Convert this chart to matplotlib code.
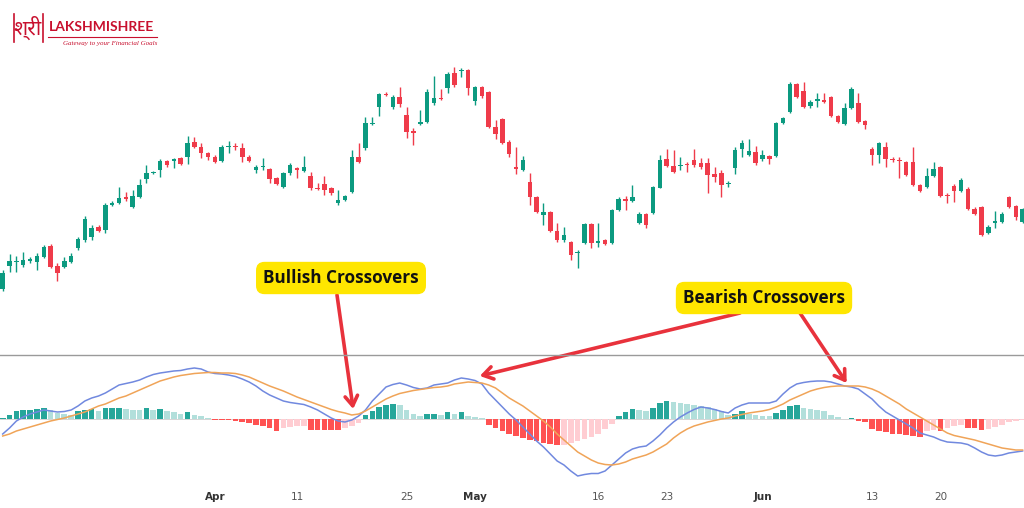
import matplotlib
matplotlib.use("Agg")
import matplotlib.pyplot as plt
from matplotlib.lines import Line2D
import numpy as np

# ---------------- data ----------------
opens = [11,34,38,35,39,38,43,54,34,33,38,52,60,63,73,70,95,97,103,93,
         103,121,127,130,139,139,142,143,158,153,147,143,139,153,154,152,143,130,133,131,
         122,113,127,132,129,124,112,116,112,97,100,108,143,152,176,193,206,193,203,185,
         169,176,178,197,202,212,227,229,230,199,213,208,173,181,158,133,130,118,103,85,
         88,69,60,58,47,57,76,57,60,57,90,101,99,77,86,87,112,141,134,134,
         136,140,137,137,126,127,116,132,151,145,148,141,144,144,177,188,216,209,194,199,
         200,203,184,176,192,197,179,151,145,153,141,140,138,138,115,113,124,133,105,114,
         109,111,91,93,67,77,78,103,94,78]
highs = [30,46,44,48,43,47,55,56,37,43,47,63,84,75,75,97,99,113,108,110,
         121,135,129,141,140,142,143,164,163,157,148,145,155,159,157,157,145,135,142,132,
         123,128,137,133,144,128,117,124,113,110,105,150,157,183,183,207,208,205,213,193,
         172,190,211,224,211,228,233,232,231,214,214,209,180,182,160,153,144,127,104,97,
         89,77,73,59,50,77,77,77,61,91,103,104,115,88,87,114,145,151,150,143,
         138,151,142,142,133,130,119,153,160,161,154,150,145,178,183,218,217,218,200,207,
         207,204,185,197,213,207,180,153,158,158,143,143,139,153,116,132,138,134,107,116,
         122,113,93,94,75,89,88,104,95,92]
lows = [9,28,28,33,37,30,42,32,19,32,37,50,58,60,68,67,94,96,99,92,
        102,117,126,123,133,132,135,136,152,142,140,137,138,147,150,138,138,127,130,117,
        115,112,125,122,128,110,110,105,105,95,99,107,137,150,175,184,204,191,193,162,
        155,175,177,195,200,207,213,223,205,195,202,172,161,156,143,126,129,95,87,75,
        68,58,58,40,32,56,52,53,55,56,89,90,98,76,72,86,112,133,127,130,
        128,133,131,107,118,103,113,126,143,144,135,139,136,143,176,187,202,192,192,193,
        197,183,177,175,191,177,171,135,137,133,138,122,124,114,108,112,123,103,97,98,
        108,90,85,64,66,72,77,92,80,77]
closes = [27,39,39,40,41,44,53,33,27,39,44,61,81,72,69,95,97,102,101,104,
          115,127,128,139,135,141,136,157,153,147,143,138,153,154,153,143,139,133,134,121,
          116,127,135,130,133,112,111,110,107,100,104,143,138,177,177,206,205,203,196,168,
          167,178,208,202,201,226,215,230,212,213,204,173,166,157,146,131,140,103,88,88,
          69,60,65,45,48,76,57,59,56,90,101,99,103,86,75,113,140,134,128,135,
          135,135,133,125,123,115,117,150,157,149,137,145,141,177,182,216,203,193,198,201,
          198,184,178,192,211,178,175,145,157,141,140,139,125,115,109,124,131,104,104,109,
          120,91,86,65,73,79,86,93,83,91]

macd = [-15,-9,-2,2,5,7,9,8,7,7.5,9,13,18,21,23,26,30,34,35.5,37,
        39,42,44.5,46,47,48,48.5,50,51,50,47,45.5,45,44,42.5,40,37,33,28,24,
        21,18,16.5,15.5,14.5,12,9,5,1,-2,-3,-1,3,9,18,25,32,34.5,36,34,
        31.5,30,31,34,35,36,39,41,40,38.5,35,26,19,12,5,-1,-8,-15,-22,-28,
        -35,-42,-46,-52,-57,-55.5,-54.5,-54.5,-52,-46,-40,-34,-30,-28,-27,-22,-16,-9,-3,2,
        6,9.5,12,11,9.5,7.5,6,11,14,16,16,16,16,18,25,31,35,36.5,37.5,38,
        38,37,35,33,32,30,25,20,13,7,3,-1,-5,-9,-14,-16,-18,-21,-23,-23.5,
        -24,-25.5,-29,-33,-36,-37,-36,-34,-33,-32]
signal = [-17,-15,-12,-10,-8,-6,-4,-2,-0.5,1,3,5,7,10,13,15,18,21,23,26,
          29,32,35,38,40,42,43.5,44.5,45.5,46,46.5,46.5,46,46,45.5,44,42,39,36,33,
          30.5,28,25,22,19.5,17,14.5,12,9.5,7.5,6,4,5,8,12,16,20,23,25.5,27,
          28.5,29.5,30.5,31.5,32,33,35,36,37,36.5,36,34,31,26,21,17,13,8,3,-2,
          -8,-15,-21,-27,-33,-37,-41,-44,-45.5,-46,-45,-43,-40,-38,-36,-33,-29,-25,-19,-14,
          -10,-7,-5,-3,-1.5,0,1,3,4.5,6,7,8,9.5,12,15,19,22,25,28,30,
          31.5,32.5,33,33,33,33,32,30,27,23,19,15,10,6,2,-2,-6,-10,-14,-16.5,
          -18,-19.5,-21,-23,-25,-27,-29,-30,-31,-31]
hist = [1.5,4.3,7.7,8.7,9.3,10.3,11,8.7,6.5,5,4,7.7,9.3,10,8,11,11.3,11.5,10,9.3,
        8.7,10.7,8.7,10,7.7,7.3,5.3,6.7,4,2.7,1,-0.5,-1,-1.3,-2,-3,-4.3,-6,-7.3,-9,
        -11.7,-9,-8,-7,-6.5,-10.5,-10.6,-10.7,-10.8,-10.9,-9,-6.5,-3.5,4.3,7.7,12,14.3,15.3,14.3,9.3,
        5,2.7,5,5.2,3.7,6.7,5.3,6.7,3.3,1.7,0.7,-5.7,-9,-11.7,-14.7,-17.3,-19.3,-20.7,-22.3,-24,
        -25.3,-26.3,-25.7,-24,-22.3,-20,-18,-14.7,-10,-4.7,2.7,6.7,10,8.7,7.7,11,16,17.7,16.7,16,
        15.5,14.3,12.7,12,10,7.7,4.5,5.5,7.7,5.3,4.3,3.3,2.7,6,8.7,12.7,13.7,11,10,9.3,
        7.7,4.3,1.7,0.3,1.3,-1.7,-3.3,-10,-11.7,-13.3,-14.7,-15.3,-15.7,-16.7,-18,-12.3,-10.5,-11.7,-9,-7.3,
        -6,-9,-9.3,-11.3,-10,-8,-5.7,-3.3,-1.7,-1]

tick_pos = [31, 43, 59, 69, 87, 97, 111, 127, 137]
tick_labels = ['Apr', '11', '25', 'May', '16', '23', 'Jun', '13', '20']
month_labels = {'Apr', 'May', 'Jun'}

# ---------------- styling ----------------
UP = '#0c9a80'
DOWN = '#ef3b4a'
H_UP, H_UP_L = '#26a69a', '#b2dfdb'
H_DN, H_DN_L = '#ff5252', '#ffcdd2'
RED = '#e8323c'

W, H = 1024, 508
fig = plt.figure(figsize=(W / 100, H / 100), dpi=100)
fig.patch.set_facecolor('white')

def fx(px):
    return px / W

def fy(py):
    return 1 - py / H

n = len(closes)
x = np.arange(n)
xl = (-2.7 / 6.845, (W - 2.7) / 6.845)

# ---- price panel ----
ax1 = fig.add_axes([0, fy(355), 1, 355 / H])
ax1.set_xlim(*xl)
ax1.set_ylim(-55, 300)
ax1.axis('off')
o = np.array(opens, float); c = np.array(closes, float)
hi = np.array(highs, float); lo = np.array(lows, float)
cols = [UP if cc >= oo else DOWN for oo, cc in zip(o, c)]
ax1.vlines(x, lo, hi, colors=cols, linewidth=1.0, zorder=2)
body_bot = np.minimum(o, c)
body_h = np.maximum(np.abs(c - o), 1.0)
ax1.bar(x, body_h, bottom=body_bot, width=0.66, color=cols, linewidth=0, zorder=3)

# ---- MACD panel ----
ax2 = fig.add_axes([0, 0, 1, fy(355)])
ax2.set_xlim(*xl)
ax2.set_ylim(-89, 64)
ax2.axis('off')
hcols = []
for i, v in enumerate(hist):
    prev = hist[i - 1] if i > 0 else v - 1
    if v >= 0:
        hcols.append(H_UP if v >= prev else H_UP_L)
    else:
        hcols.append(H_DN if v <= prev else H_DN_L)
ax2.axhline(0, color='#cfcfcf', lw=0.6, zorder=1)
ax2.bar(x, hist, width=0.82, color=hcols, linewidth=0, zorder=2)
ax2.plot(x, macd, color='#7189df', lw=1.1, zorder=3)
ax2.plot(x, signal, color='#f0a458', lw=1.1, zorder=3)

for p, lab in zip(tick_pos, tick_labels):
    if lab in month_labels:
        ax2.text(p, -78, lab, ha='center', va='center', fontsize=7.5,
                 fontweight='bold', color='#333333', family='DejaVu Sans')
    else:
        ax2.text(p, -78, lab, ha='center', va='center', fontsize=7.5,
                 color='#555555', family='DejaVu Sans')

# separator line
fig.add_artist(Line2D([0, 1], [fy(355), fy(355)], transform=fig.transFigure,
                      color='#9a9a9a', lw=1.0))

# ---- annotation boxes ----
box = dict(boxstyle='round,pad=0.42,rounding_size=0.5', fc='#ffe600', ec='none')
fig.text(fx(341), fy(278), 'Bullish Crossovers', ha='center', va='center',
         fontsize=12.3, fontweight='bold', family='Open Sans', color='#111111', bbox=box)
fig.text(fx(764), fy(298), 'Bearish Crossovers', ha='center', va='center',
         fontsize=12.3, fontweight='bold', family='Open Sans', color='#111111', bbox=box)

arrow_kw = dict(arrowstyle='->,head_length=0.7,head_width=0.45', color=RED, lw=2.6,
                shrinkA=0, shrinkB=0)
ax2.annotate('', xy=(51.2, 10), xycoords='data',
             xytext=(fx(337), fy(295)), textcoords='figure fraction', arrowprops=arrow_kw)
ax2.annotate('', xy=(69.7, 43), xycoords='data',
             xytext=(fx(740), fy(313)), textcoords='figure fraction', arrowprops=arrow_kw)
ax2.annotate('', xy=(123.3, 36), xycoords='data',
             xytext=(fx(800), fy(313)), textcoords='figure fraction', arrowprops=arrow_kw)

# ---- logo ----
LOGO = '#c8102e'
fig.text(fx(28), fy(28), 'श्री', ha='center', va='center', fontsize=15,
         fontweight='bold', color=LOGO, family=['Noto Sans', 'DejaVu Sans'])
for px in (14, 43):
    fig.add_artist(Line2D([fx(px), fx(px)], [fy(14), fy(42)], transform=fig.transFigure,
                          color=LOGO, lw=1.2))
fig.text(fx(49), fy(27), 'LAKSHMISHREE', ha='left', va='center', fontsize=10,
         fontweight='bold', color=LOGO, family=['Lato', 'DejaVu Sans'])
fig.add_artist(Line2D([fx(48), fx(157)], [fy(37), fy(37)], transform=fig.transFigure,
                      color=LOGO, lw=0.8))
fig.text(fx(157), fy(43), 'Gateway to your Financial Goals', ha='right', va='center',
         fontsize=5, style='italic', color=LOGO, family='Liberation Serif')

fig.savefig('out.png', dpi=100, facecolor='white')
